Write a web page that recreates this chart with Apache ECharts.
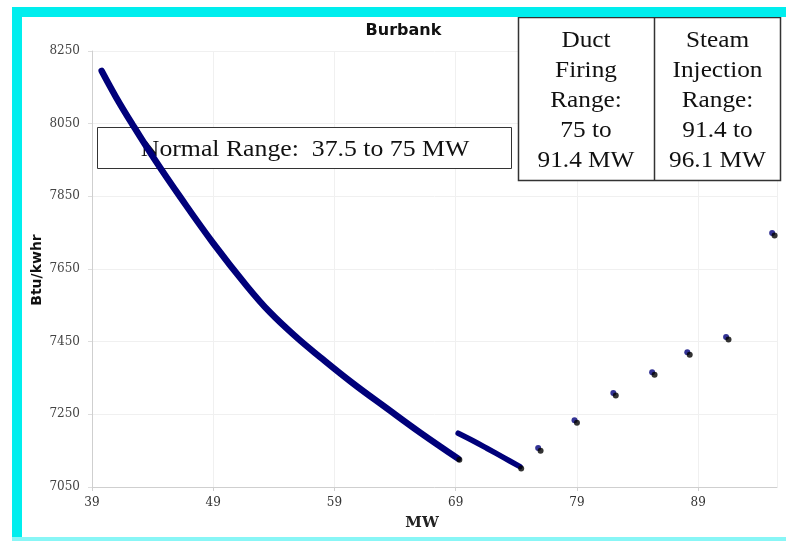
<!DOCTYPE html>
<html>
<head>
<meta charset="utf-8">
<title>Burbank</title>
<script src="https://cdn.jsdelivr.net/npm/echarts/dist/echarts.min.js"></script>
<style>
  html, body { margin: 0; padding: 0; background: #fff; }
  #chart { width: 786px; height: 541px; }
</style>
</head>
<body>
<div id="chart"></div>
<script type="text/javascript">
// normal range curve (MW, Btu/kwhr)
var curveMw  = [39.8, 41.0, 42.3, 44.2, 46.3, 49.0, 51.8, 53.7, 55.9, 57.8, 60.5, 63.3, 66.1, 69.2];
var curveBtu = [8195, 8122, 8050, 7950, 7847, 7721, 7602, 7530, 7461, 7408, 7336, 7267, 7199, 7128];
// second piece, just above 69 MW
var upperMw  = [69.2, 70.5, 71.6, 73.0, 74.3];
var upperBtu = [7198, 7176, 7156, 7130, 7106];
// duct firing / steam injection points
var stepMw   = [75.8, 78.8, 82.0, 85.2, 88.1, 91.3, 95.1];
var stepBtu  = [7157, 7234, 7309, 7366, 7421, 7463, 7749];
// black end marks
var blackMw  = [69.3, 74.4, 76.0, 79.0, 82.2, 85.4, 88.3, 91.5, 95.3];
var blackBtu = [7125, 7101, 7150, 7227, 7302, 7359, 7414, 7456, 7742];

var xTicks = [39, 49, 59, 69, 79, 89];
var yTicks = [7050, 7250, 7450, 7650, 7850, 8050, 8250];

function pairs(xs, ys) {
    return xs.map(function (x, i) { return [x, ys[i]]; });
}

var navy = '#00007a';
var serif = '"Liberation Serif", "Times New Roman", serif';

var chart = echarts.init(document.getElementById('chart'));
chart.setOption({
    animation: false,
    grid: { left: 92, right: 9, top: 51, bottom: 54 },
    xAxis: {
        type: 'value',
        min: xTicks[0],
        max: 95.5,
        interval: xTicks[1] - xTicks[0],
        axisLine: { lineStyle: { color: '#cfcfcf', width: 1 } },
        axisTick: { show: true, length: 4, lineStyle: { color: '#cfcfcf' } },
        axisLabel: {
            showMaxLabel: false,
            margin: 10,
            color: '#333',
            fontFamily: '"DejaVu Serif", serif',
            fontSize: 12,
            formatter: function (v) { return String(v); }
        },
        splitLine: { show: true, lineStyle: { color: '#f0f0f0' } }
    },
    yAxis: {
        type: 'value',
        min: yTicks[0],
        max: yTicks[yTicks.length - 1],
        interval: yTicks[1] - yTicks[0],
        axisLine: { show: true, lineStyle: { color: '#cfcfcf', width: 1 } },
        axisTick: { show: true, length: 4, lineStyle: { color: '#dddddd' } },
        axisLabel: {
            margin: 12,
            color: '#444',
            fontFamily: '"DejaVu Serif", serif',
            fontSize: 12,
            formatter: function (v) { return String(v); }
        },
        splitLine: { show: true, lineStyle: { color: '#f0f0f0' } }
    },
    series: [
        {
            name: 'normal',
            type: 'line',
            data: pairs(curveMw, curveBtu),
            smooth: 0.4,
            showSymbol: false,
            lineStyle: { color: navy, width: 6.5, cap: 'round', join: 'round' },
            z: 3
        },
        {
            name: 'upper',
            type: 'line',
            data: pairs(upperMw, upperBtu),
            smooth: 0.4,
            showSymbol: false,
            lineStyle: { color: navy, width: 5.5, cap: 'round', join: 'round' },
            z: 3
        },
        {
            name: 'steps',
            type: 'scatter',
            data: pairs(stepMw, stepBtu),
            symbol: 'circle',
            symbolSize: 6,
            itemStyle: { color: navy },
            z: 3
        },
        {
            name: 'ends',
            type: 'scatter',
            data: pairs(blackMw, blackBtu),
            symbol: 'circle',
            symbolSize: 6,
            itemStyle: { color: '#000' },
            z: 4
        }
    ],
    graphic: [
        // cyan frame
        { type: 'rect', silent: true, z: 20, shape: { x: 12, y: 7, width: 10, height: 534 }, style: { fill: '#00eeee' } },
        { type: 'rect', silent: true, z: 20, shape: { x: 12, y: 7, width: 774, height: 10 }, style: { fill: '#00eeee' } },
        { type: 'rect', silent: true, z: 20, shape: { x: 12, y: 537, width: 774, height: 4 }, style: { fill: '#88f6f6' } },
        // title and axis names
        { type: 'text', silent: true, x: 403.5, y: 31,
          style: { text: 'Burbank', font: 'bold 16px "DejaVu Sans"', fill: '#111', textAlign: 'center', textVerticalAlign: 'middle' } },
        { type: 'text', silent: true, x: 37, y: 270, rotation: Math.PI / 2,
          style: { text: 'Btu/kwhr', font: 'bold 14px "DejaVu Sans"', fill: '#111', textAlign: 'center', textVerticalAlign: 'middle' } },
        { type: 'text', silent: true, x: 422, y: 523,
          style: { text: 'MW', font: 'bold 15px "DejaVu Serif"', fill: '#222', textAlign: 'center', textVerticalAlign: 'middle' } },
        // normal range box (under the curve)
        { type: 'rect', silent: true, z: 1, shape: { x: 97.5, y: 127.5, width: 414, height: 41 },
          style: { fill: '#fff', stroke: '#333', lineWidth: 1 } },
        { type: 'text', silent: true, z: 1, x: 305, y: 150, scaleX: 1.12,
          style: { text: 'Normal Range:  37.5 to 75 MW', font: '23px ' + serif, fill: '#111', textAlign: 'center', textVerticalAlign: 'middle' } },
        // range table
        { type: 'rect', silent: true, z: 10, shape: { x: 518.5, y: 17.5, width: 262, height: 163 }, style: { fill: '#fff' } },
        { type: 'text', silent: true, z: 11, x: 586, y: 101, scaleX: 1.1,
          style: { text: 'Duct\nFiring\nRange:\n75 to\n91.4 MW', font: '23px ' + serif, lineHeight: 30, fill: '#111', textAlign: 'center', textVerticalAlign: 'middle' } },
        { type: 'text', silent: true, z: 11, x: 717.5, y: 101, scaleX: 1.1,
          style: { text: 'Steam\nInjection\nRange:\n91.4 to\n96.1 MW', font: '23px ' + serif, lineHeight: 30, fill: '#111', textAlign: 'center', textVerticalAlign: 'middle' } },
        { type: 'rect', silent: true, z: 12, shape: { x: 519, y: 168, width: 261, height: 12 }, style: { fill: '#fff' } },
        { type: 'rect', silent: true, z: 13, shape: { x: 518.5, y: 17.5, width: 262, height: 163 },
          style: { fill: 'none', stroke: '#333', lineWidth: 1.5 } },
        { type: 'line', silent: true, z: 13, shape: { x1: 654.5, y1: 17.5, x2: 654.5, y2: 180.5 },
          style: { stroke: '#333', lineWidth: 1.5 } }
    ]
});
</script>
</body>
</html>
